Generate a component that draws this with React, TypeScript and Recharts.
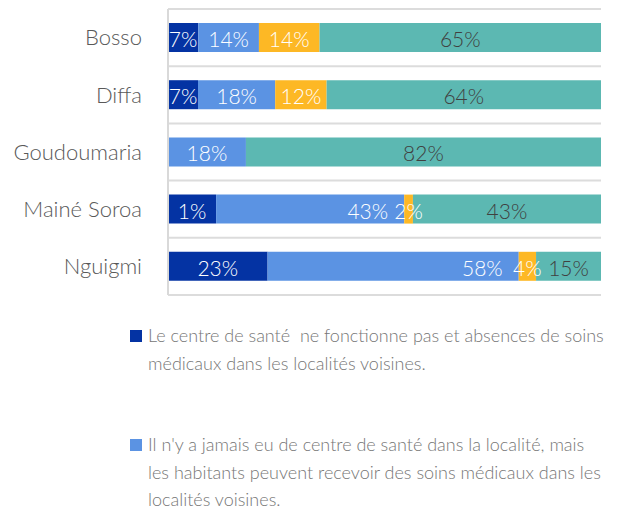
import { BarChart, Bar, XAxis, YAxis, CartesianGrid, LabelList, Legend } from 'recharts'

const localites = ['Bosso', 'Diffa', 'Goudoumaria', 'Mainé Soroa', 'Nguigmi']
const nonFonctionnel = [7, 7, 0, 11, 23]
const nonFonctionnelLabels = ['7%', '7%', '', '1%', '23%']
const jamaisVoisines = [14, 18, 18, 43, 58]
const jamaisAucun = [14, 12, 0, 2, 4]
const fonctionnel = [65, 64, 82, 43, 15]

const NAMES = [
  'Le centre de santé  ne fonctionne pas et absences de soins\nmédicaux dans les localités voisines.',
  "Il n'y a jamais eu de centre de santé dans la localité, mais\nles habitants peuvent recevoir des soins médicaux dans les\nlocalités voisines.",
  "Il n'y a jamais eu de centre de santé dans la localité et\nabsence de soins médicaux dans les localités voisines.",
  'Le centre de santé fonctionne.',
]
const COLORS = ['#0433a3', '#5b93e3', '#fdb825', '#5cb8b2']
const KEYS = ['s1', 's2', 's3', 's4']

const data = localites.map((name, i) => ({
  name,
  s1: nonFonctionnel[i],
  s2: jamaisVoisines[i],
  s3: jamaisAucun[i],
  s4: fonctionnel[i],
}))

const FONT = 'Lato, "Open Sans", sans-serif'

const makeLabel = (series: number) => (props: any) => {
  const { x, y, width, height, value } = props
  const idx = localites.indexOf(value)
  if (idx < 0) return null
  const raw = [nonFonctionnel, jamaisVoisines, jamaisAucun, fonctionnel][series][idx]
  if (!raw) return null
  const text = series === 0 ? nonFonctionnelLabels[idx] : `${raw}%`
  const atEnd = series === 1 && width > 120
  return (
    <text
      x={atEnd ? x + width - 16 : x + width / 2}
      y={y + height / 2 + 1}
      textAnchor={atEnd ? 'end' : 'middle'}
      dominantBaseline="central"
      fill={series === 3 ? '#404040' : '#ffffff'}
      fontSize={21}
      fontWeight={300}
      fontFamily={FONT}
    >
      {text}
    </text>
  )
}

// only the first two entries are visible in the frame
const renderLegend = ({ payload }: any) => {
  const items = [...(payload || [])]
    .sort((a: any, b: any) => KEYS.indexOf(a.dataKey) - KEYS.indexOf(b.dataKey))
    .slice(0, 2)
  return (
    <div style={{ fontFamily: FONT, fontWeight: 300, fontSize: 18, color: '#767676', lineHeight: '27.5px' }}>
      {items.map((p: any, i: number) => (
        <div key={i} style={{ position: 'relative', paddingLeft: 148, marginBottom: 54, whiteSpace: 'pre' }}>
          <span style={{ position: 'absolute', left: 130, top: 8, width: 12, height: 12, background: p.color }} />
          {p.value}
        </div>
      ))}
    </div>
  )
}

export default function App() {
  const n = localites.length
  return (
    <div style={{ position: 'fixed', left: 0, top: 0, width: 618, height: 511, overflow: 'hidden', background: '#fff' }}>
      <BarChart
        width={618}
        height={511}
        data={data}
        layout="vertical"
        stackOffset="expand"
        barSize={29}
        margin={{ top: 9, right: 17, bottom: 216, left: 0 }}
      >
        <CartesianGrid
          vertical={false}
          stroke="#dcdcdc"
          strokeWidth={2}
          horizontalCoordinatesGenerator={({ offset }: any) =>
            Array.from({ length: n + 1 }, (_, i) => offset.top + (i * offset.height) / n)
          }
        />
        <XAxis type="number" hide domain={[0, 1]} />
        <YAxis
          type="category"
          dataKey="name"
          width={168}
          axisLine={{ stroke: '#d9d9d9', strokeWidth: 2 }}
          tickLine={false}
          tickMargin={20}
          tick={{ fill: '#595959', fontSize: 22, fontWeight: 300, fontFamily: FONT }}
        />
        <Legend
          layout="horizontal"
          verticalAlign="middle"
          align="center"
          content={renderLegend}
          wrapperStyle={{ top: 322, left: 0, width: 618 }}
        />
        {KEYS.map((k, i) => (
          <Bar key={k} dataKey={k} name={NAMES[i]} stackId="a" fill={COLORS[i]} isAnimationActive={false}>
            <LabelList dataKey="name" content={makeLabel(i)} />
          </Bar>
        ))}
      </BarChart>
    </div>
  )
}
